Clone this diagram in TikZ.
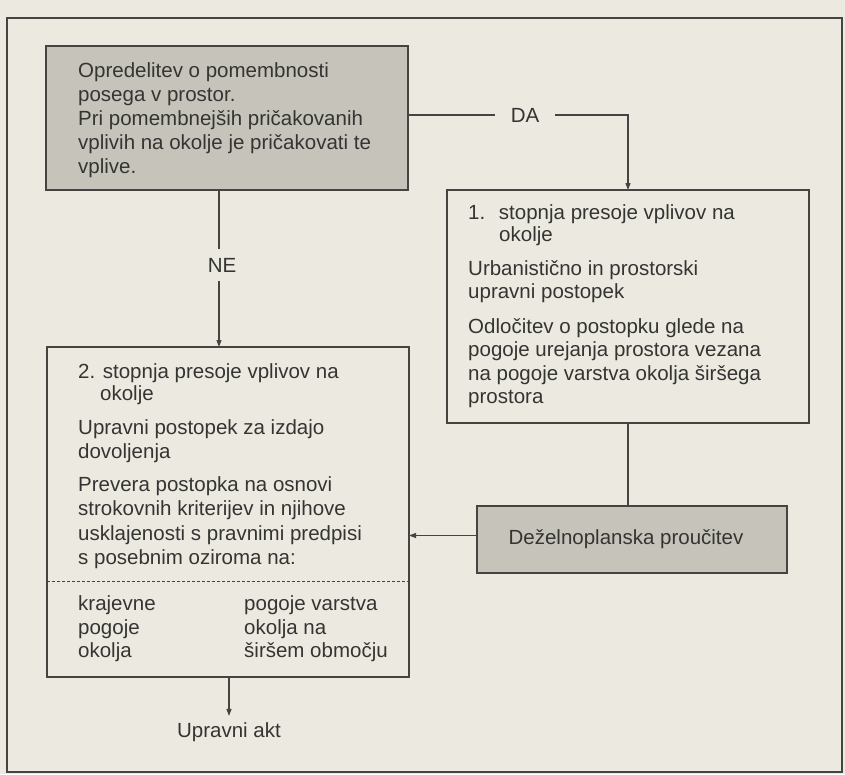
\documentclass[tikz,border=0pt]{standalone}
\usepackage{fontspec}
\setmainfont{Liberation Sans}
\usetikzlibrary{arrows.meta}
\definecolor{paper}{RGB}{236,233,224}
\definecolor{ink}{RGB}{52,52,50}
\definecolor{linec}{RGB}{68,68,66}
\definecolor{shade}{RGB}{198,195,187}
\tikzset{
  box/.style={draw=linec, line width=1.1pt, anchor=north west, inner sep=0pt, outer sep=0pt},
  greybox/.style={box, fill=shade},
  whitebox/.style={box},
  tl/.style={anchor=base west, inner sep=0pt, text=ink, font=\fontsize{20.5}{24}\selectfont},
  lbl/.style={fill=paper, text=ink, font=\fontsize{20.5}{24}\selectfont},
  conn/.style={draw=linec, line width=1.1pt},
  arr/.style={conn, -{Triangle[length=7pt,width=5pt]}}
}
\begin{document}
\begin{tikzpicture}[x=1pt,y=-1pt]
\useasboundingbox (0,0) rectangle (845,774);
\fill[paper] (0,0) rectangle (845,774);
\draw[linec, line width=1.6pt] (7,18) rectangle (842,772);

% boxes
\node[greybox, minimum width=362pt, minimum height=144pt] (A) at (46,46) {};
\node[whitebox, minimum width=362pt, minimum height=233pt] (B) at (447,190) {};
\node[whitebox, minimum width=362pt, minimum height=330pt] (C) at (47,347) {};
\node[greybox, minimum width=310pt, minimum height=67pt, text=ink, font=\fontsize{20.5}{24}\selectfont] (D) at (477,506) {\hspace*{-12pt}Deželnoplanska proučitev};
\node[anchor=base, inner sep=0pt, text=ink, font=\fontsize{20.5}{24}\selectfont] (E) at (229,737) {Upravni akt};

% dashed separator in C
\draw[linec, line width=0.8pt, dash pattern=on 3pt off 2pt] (C.west |- 0,581) -- (C.east |- 0,581);

% connectors
\draw[arr] ([yshift=3pt]A.east) -| (B.north);
\draw[arr] ([xshift=-8pt]A.south) -- ([xshift=-8pt]A.south |- C.north);
\draw[conn] (B.south) -- (B.south |- D.north);
\draw[arr] ([yshift=4pt]D.west) -- ([yshift=4pt]D.west -| C.east);
\draw[arr, shorten >=6pt] (E.north |- C.south) -- (E.north);

% connector labels
\node[lbl, inner xsep=16pt, inner ysep=4pt] (da) at (525,115) {DA};
\node[lbl, inner xsep=3pt, inner ysep=9pt] (ne) at (222,265) {NE};

% text of A
\node[tl] (a1) at (78,77) {Opredelitev o pomembnosti};
\node[tl] (a2) at (78,101) {posega v prostor.};
\node[tl] (a3) at (78,125) {Pri pomembnejših pričakovanih};
\node[tl] (a4) at (78,149) {vplivih na okolje je pričakovati te};
\node[tl] (a5) at (78,173) {vplive.};

% text of B
\node[tl] (b1) at (468,219) {1.\kern8pt\ stopnja presoje vplivov na};
\node[tl] (b2) at (499,241) {okolje};
\node[tl] (b3) at (468,275) {Urbanistično in prostorski};
\node[tl] (b4) at (468,298) {upravni postopek};
\node[tl] (b5) at (468,333) {Odločitev o postopku glede na};
\node[tl] (b6) at (468,356) {pogoje urejanja prostora vezana};
\node[tl] (b7) at (468,380) {na pogoje varstva okolja širšega};
\node[tl] (b8) at (468,403) {prostora};

% text of C
\node[tl] (c1) at (78,378) {2. stopnja presoje vplivov na};
\node[tl] (c2) at (100,400) {okolje};
\node[tl] (c3) at (78,434) {Upravni postopek za izdajo};
\node[tl] (c4) at (78,458) {dovoljenja};
\node[tl] (c5) at (78,491) {Prevera postopka na osnovi};
\node[tl] (c6) at (78,515) {strokovnih kriterijev in njihove};
\node[tl] (c7) at (78,540) {usklajenosti s pravnimi predpisi};
\node[tl] (c8) at (78,564) {s posebnim oziroma na:};
\node[tl] (c9) at (78,610) {krajevne};
\node[tl] (c10) at (78,634) {pogoje};
\node[tl] (c11) at (78,657) {okolja};
\node[tl] (c12) at (244,610) {pogoje varstva};
\node[tl] (c13) at (244,634) {okolja na};
\node[tl] (c14) at (244,657) {širšem območju};
\end{tikzpicture}
\end{document}
